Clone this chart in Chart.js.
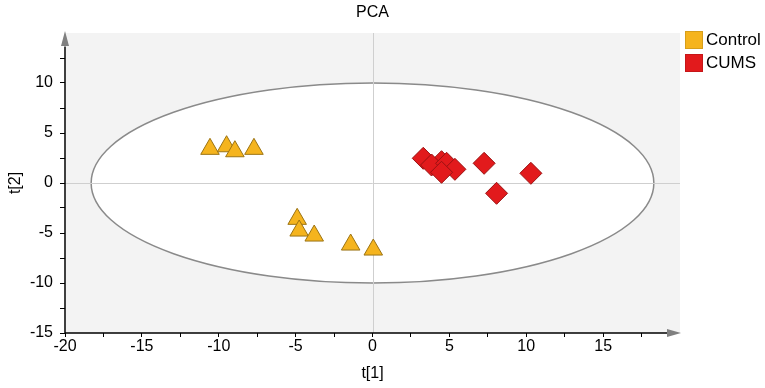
<!DOCTYPE html>
<html>
<head>
<meta charset="utf-8">
<script src="https://cdn.jsdelivr.net/npm/chart.js@4/dist/chart.umd.min.js"></script>
<style>
  html, body { margin: 0; padding: 0; background: #fff; }
  #c { display: block; }
</style>
</head>
<body>
<canvas id="c" width="765" height="388"></canvas>
<script>
// ---- data ----
const seriesNames = ['Control', 'CUMS'];
const controlX = [-10.57, -9.49, -8.95, -7.71, -4.90, -4.77, -3.79, -1.42, 0.05];
const controlY = [3.40, 3.66, 3.16, 3.40, -3.60, -4.77, -5.27, -6.17, -6.67];
const cumsX = [3.30, 4.49, 3.84, 4.82, 5.36, 4.49, 7.26, 8.07, 10.30];
const cumsY = [2.47, 2.13, 1.80, 1.97, 1.37, 1.07, 1.97, -1.03, 0.97];
const xTickLabels = [-20, -15, -10, -5, 0, 5, 10, 15];
const yTickLabels = [-15, -10, -5, 0, 5, 10];
const xRange = [-20, 20];
const yRange = [-15, 15];
const ellipseRadii = [18.3, 10.0]; // Hotelling T2 ellipse semi-axes (t[1], t[2])

const FONT = "'Liberation Sans', Arial, sans-serif";
const colControl = '#F5B41E', edgeControl = '#9C7414';
const colCums = '#E21A1C', edgeCums = '#9A1212';

Chart.defaults.font.family = FONT;
Chart.defaults.color = '#000';

const toPts = (xs, ys) => xs.map((x, i) => ({ x: x, y: ys[i] }));

const plotDecor = {
  id: 'plotDecor',
  beforeDatasetsDraw(chart) {
    const { ctx, chartArea: a, scales: { x, y } } = chart;
    ctx.save();
    ctx.fillStyle = '#F3F3F3';
    ctx.fillRect(a.left + 1, a.top, a.right - a.left - 1, a.bottom - a.top);
    // ellipse
    const cx = x.getPixelForValue(0), cy = y.getPixelForValue(0);
    const rx = x.getPixelForValue(ellipseRadii[0]) - cx;
    const ry = cy - y.getPixelForValue(ellipseRadii[1]);
    ctx.beginPath();
    ctx.ellipse(cx, cy, rx, ry, 0, 0, Math.PI * 2);
    ctx.fillStyle = '#FFFFFF';
    ctx.fill();
    ctx.lineWidth = 1.5;
    ctx.strokeStyle = '#8A8A8A';
    ctx.stroke();
    // zero lines
    ctx.lineWidth = 1;
    ctx.strokeStyle = '#CFCFCF';
    ctx.beginPath();
    ctx.moveTo(Math.round(cx) + 0.5, a.top);
    ctx.lineTo(Math.round(cx) + 0.5, a.bottom);
    ctx.moveTo(a.left, Math.round(cy) + 0.5);
    ctx.lineTo(a.right, Math.round(cy) + 0.5);
    ctx.stroke();
    ctx.restore();
  },
  afterDraw(chart) {
    const { ctx, chartArea: a } = chart;
    ctx.save();
    // axis lines
    ctx.strokeStyle = '#000';
    ctx.lineWidth = 1.5;
    ctx.beginPath();
    ctx.moveTo(a.left, a.bottom);
    ctx.lineTo(a.left, a.top + 14);
    ctx.moveTo(a.left, a.bottom);
    ctx.lineTo(a.right - 13, a.bottom);
    ctx.stroke();
    // arrows
    ctx.fillStyle = '#808080';
    ctx.strokeStyle = '#808080';
    ctx.lineWidth = 1.5;
    ctx.beginPath();
    ctx.moveTo(a.left, a.top + 14);
    ctx.lineTo(a.left, a.top + 6);
    ctx.moveTo(a.right - 13, a.bottom);
    ctx.lineTo(a.right - 5, a.bottom);
    ctx.stroke();
    ctx.beginPath();
    ctx.moveTo(a.left, a.top - 2);
    ctx.lineTo(a.left + 4, a.top + 13);
    ctx.lineTo(a.left - 4, a.top + 13);
    ctx.closePath();
    ctx.fill();
    ctx.beginPath();
    ctx.moveTo(a.right + 1, a.bottom);
    ctx.lineTo(a.right - 13, a.bottom - 4);
    ctx.lineTo(a.right - 13, a.bottom + 4);
    ctx.closePath();
    ctx.fill();
    // legend
    const lx = a.right + 5;
    const items = chart.data.datasets;
    ctx.font = '17px ' + FONT;
    ctx.textBaseline = 'middle';
    ctx.textAlign = 'left';
    items.forEach((ds, i) => {
      const ty = 31 + i * 23;
      ctx.fillStyle = ds.backgroundColor;
      ctx.fillRect(lx, ty, 18, 18);
      ctx.strokeStyle = 'rgba(0,0,0,0.12)';
      ctx.lineWidth = 1;
      ctx.strokeRect(lx + 0.5, ty + 0.5, 17, 17);
      ctx.fillStyle = '#000';
      ctx.fillText(ds.label, lx + 21, ty + 9.5);
    });
    ctx.restore();
  }
};

const tickColor = (max) => (c) => (c.tick && c.tick.value === max ? 'rgba(0,0,0,0)' : '#000');

new Chart(document.getElementById('c'), {
  type: 'scatter',
  data: {
    datasets: [
      {
        label: seriesNames[0],
        data: toPts(controlX, controlY),
        pointStyle: 'triangle',
        pointRadius: 10.7,
        pointHoverRadius: 10.7,
        backgroundColor: colControl,
        borderColor: edgeControl,
        borderWidth: 1
      },
      {
        label: seriesNames[1],
        data: toPts(cumsX, cumsY),
        pointStyle: 'rectRot',
        pointRadius: 11,
        pointHoverRadius: 11,
        backgroundColor: colCums,
        borderColor: edgeCums,
        borderWidth: 1
      }
    ]
  },
  options: {
    responsive: false,
    animation: false,
    events: [],
    layout: { padding: { left: 0, right: 85, top: 0, bottom: 0 } },
    plugins: {
      legend: { display: false },
      tooltip: { enabled: false },
      title: {
        display: true,
        text: 'PCA',
        fullSize: false,
        color: '#000',
        font: { size: 16, weight: 'normal', family: FONT },
        padding: { top: 3.2, bottom: 10.6 }
      }
    },
    scales: {
      x: {
        type: 'linear',
        min: xRange[0], max: xRange[1],
        border: { display: false },
        grid: { drawOnChartArea: false, drawTicks: true, tickLength: 4, color: tickColor(xRange[1]), lineWidth: 1 },
        ticks: {
          stepSize: 2.5, autoSkip: false, maxRotation: 0, padding: 0,
          font: { size: 16, family: FONT }, color: '#000',
          callback: (v) => (xTickLabels.includes(v) ? String(v) : '')
        },
        title: { display: true, text: 't[1]', font: { size: 16, family: FONT }, color: '#000', padding: { top: 0, bottom: 4.4 } },
        afterFit(s) { s.height = 55; s.paddingLeft = 0; s.paddingRight = 0; }
      },
      y: {
        type: 'linear',
        min: yRange[0], max: yRange[1],
        border: { display: false },
        grid: { drawOnChartArea: false, drawTicks: true, tickLength: 5, color: tickColor(yRange[1]), lineWidth: 1 },
        ticks: {
          stepSize: 2.5, autoSkip: false, padding: 7,
          font: { size: 16, family: FONT }, color: '#000',
          callback: (v) => (yTickLabels.includes(v) ? String(v) : '')
        },
        title: { display: true, text: 't[2]', font: { size: 16, family: FONT }, color: '#000', padding: { top: 5.5, bottom: 0 } },
        afterFit(s) { s.width = 65; s.paddingTop = 0; s.paddingBottom = 0; }
      }
    }
  },
  plugins: [plotDecor]
});
</script>
</body>
</html>
